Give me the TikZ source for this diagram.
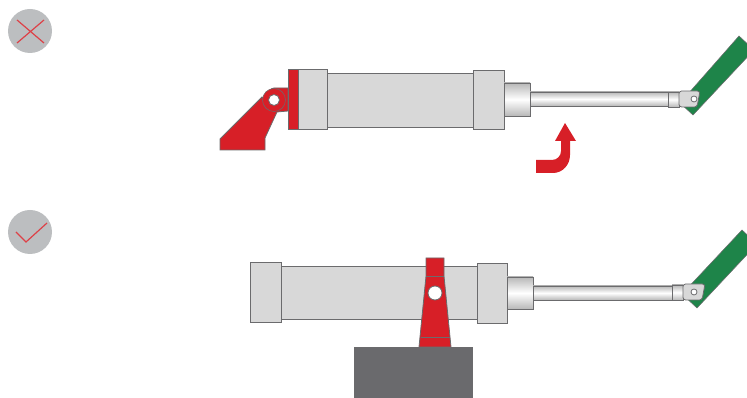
\documentclass[tikz,border=0pt]{standalone}
\usepackage{xcolor}
\usetikzlibrary{arrows.meta}
\definecolor{basegray}{HTML}{D8D8D8}
\definecolor{edgegray}{HTML}{6B6B6D}
\definecolor{badgegray}{HTML}{BCBEC0}
\definecolor{basered}{HTML}{D71F27}
\definecolor{basegreen}{HTML}{1E8449}
\definecolor{blockgray}{HTML}{6A6A6D}
\tikzset{
  part/.style={draw=edgegray,line width=0.7pt,fill=basegray},
  redpart/.style={draw=edgegray,line width=0.6pt,fill=basered},
  greenpart/.style={draw=edgegray,line width=0.4pt,fill=basegreen},
  shiny/.style={draw=edgegray,line width=0.7pt,top color=basegray!85!black,bottom color=basegray!85!black,middle color=white},
  badge/.style={fill=badgegray,draw=none},
  badgemark/.style={draw=basered!85!white,line width=0.9pt},
  hole/.style={fill=white,draw=edgegray,line width=0.6pt}
}
\begin{document}
\begin{tikzpicture}[x=0.75pt,y=-0.75pt]
  \useasboundingbox (0,0) rectangle (747,398);
  % badges
  \fill[badge] (30,31) circle (22);
  \draw[badgemark] (17,20)--(44,43) (44,20)--(17,43);
  \fill[badge] (30,232) circle (22);
  \draw[badgemark] (16,232)--(26,242)--(47,223);
  % wrong mounting
  \draw[greenpart] (739,36)--(754,50)--(693,115)--(680,103)--cycle;
  \draw[redpart] (220,139)--(262,97)to[out=-60,in=180](274,88)--(288,88)--(288,111)--(277,112)--(265,138)--(265,150)--(220,150)--cycle;
  \draw[redpart,line width=0.4pt] (274,100) circle (11.5);
  \draw[hole] (274,100) circle (5.5);
  \draw[part] (327,73)rectangle(473,127);
  \draw[part] (288,69)rectangle(327,129);
  \draw[redpart] (288,69)rectangle(298,129);
  \draw[part] (473,70)rectangle(504,129);
  \draw[shiny] (504,83)rectangle(530,116);
  \draw[shiny] (530,92)rectangle(668,106);
  \draw[shiny] (668,92)rectangle(679,107);
  \draw[part,line width=0.6pt,rounded corners=2pt] (679,91)--(700,91)--(697,107)--(679,107)--cycle;
  \draw[hole] (694,99) circle (3);
  \fill[basered] (536,160)--(552,160)to[out=0,in=-90](561,151)--(561,141)--(555,141)--(565,123)--(576,141)--(570,141)--(570,155)to[out=-90,in=0](553,173)--(536,173)--cycle;
  % right mounting
  \draw[greenpart] (742,230)--(757,244)--(697,308)--(682,294)--cycle;
  \fill[blockgray,draw=edgegray,line width=0.7pt] (354,398)--(354,347)--(472,347)--(472,398);
  \draw[part] (281,266)rectangle(477,319);
  \draw[part] (250,262)rectangle(281,322);
  \draw[part] (477,263)rectangle(507,323);
  \draw[shiny] (507,277)rectangle(533,309);
  \draw[shiny] (533,286)rectangle(672,300);
  \draw[shiny] (672,285)rectangle(683,300);
  \draw[part,line width=0.6pt,rounded corners=2pt] (683,284)--(705,284)--(702,300)--(683,300)--cycle;
  \draw[hole] (694,292) circle (3);
  \draw[redpart] (426,258)--(444,258)--(444,276)--(451,347)--(419,347)--(426,276)--cycle;
  \draw[edgegray,line width=0.6pt] (426,276)--(444,276) (421,337)--(450,337);
  \draw[hole] (435,293) circle (7);
\end{tikzpicture}
\end{document}
